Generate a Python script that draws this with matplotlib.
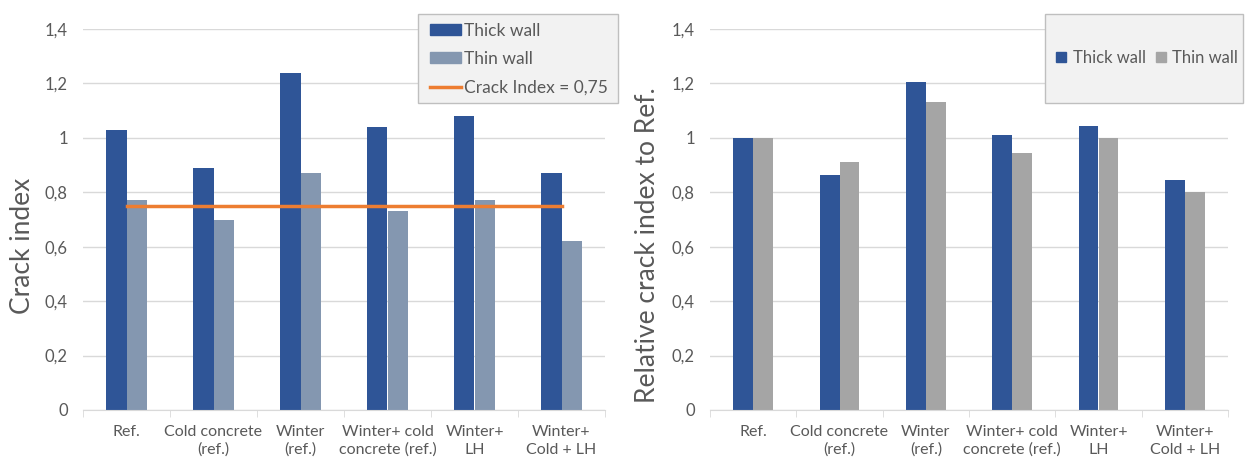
import numpy as np
import matplotlib.pyplot as plt
from matplotlib.patches import Patch, Rectangle
from matplotlib.lines import Line2D

plt.rcParams['font.family'] = ['Lato', 'DejaVu Sans']

categories = ["Ref.", "Cold concrete\n(ref.)", "Winter\n(ref.)",
              "Winter+ cold\nconcrete (ref.)", "Winter+\nLH", "Winter+\nCold + LH"]

# crack index per case
thick_abs = [1.03, 0.89, 1.24, 1.04, 1.08, 0.87]
thin_abs = [0.77, 0.70, 0.87, 0.73, 0.77, 0.62]
crack_limit = 0.75

# crack index relative to the reference case
thick_rel = [1.00, 0.865, 1.205, 1.01, 1.045, 0.845]
thin_rel = [1.00, 0.91, 1.13, 0.945, 1.00, 0.80]

yticks = [0, 0.2, 0.4, 0.6, 0.8, 1.0, 1.2, 1.4]
ytick_labels = ["0", "0,2", "0,4", "0,6", "0,8", "1", "1,2", "1,4"]

DARK = '#2F5597'
THIN_L = '#8497B0'
THIN_R = '#A5A5A5'
ORANGE = '#ED7D31'
TXT = '#595959'
GRID = '#D9D9D9'

W, H = 1245, 462
fig = plt.figure(figsize=(W / 100, H / 100), dpi=100)
ax1 = fig.add_axes([83 / W, 1 - 410 / H, 522 / W, 381 / H])
ax2 = fig.add_axes([710 / W, 1 - 410 / H, 518 / W, 381 / H])

x = np.arange(len(categories))
w = 0.23


def style(ax):
    ax.set_xlim(-0.5, len(categories) - 0.5)
    ax.set_ylim(0, 1.4)
    ax.set_yticks(yticks)
    ax.set_yticklabels(ytick_labels, color=TXT, fontsize=12)
    ax.set_xticks(x)
    ax.set_xticklabels(categories, color=TXT, fontsize=11.5, linespacing=1.3)
    ax.set_xticks(np.arange(-0.5, len(categories), 1), minor=True)
    ax.tick_params(axis='x', which='major', length=0, pad=11)
    ax.tick_params(axis='x', which='minor', length=5, color=GRID)
    ax.tick_params(axis='y', length=0, pad=11)
    ax.grid(axis='y', color=GRID, linewidth=1)
    ax.set_axisbelow(True)
    for s in ['top', 'right', 'left']:
        ax.spines[s].set_visible(False)
    ax.spines['bottom'].set_color(GRID)


ax1.bar(x - w / 2, thick_abs, w, color=DARK)
ax1.bar(x + w / 2, thin_abs, w, color=THIN_L)
ax1.plot([x[0], x[-1]], [crack_limit, crack_limit], color=ORANGE, linewidth=2.5)
style(ax1)
ax1.set_ylabel("Crack index", fontsize=19, color=TXT)
ax1.yaxis.set_label_coords(-0.092, 0.43)

ax2.bar(x - w / 2, thick_rel, w, color=DARK)
ax2.bar(x + w / 2, thin_rel, w, color=THIN_R)
style(ax2)
ax2.set_ylabel("Relative crack index to Ref.", fontsize=19, color=TXT)
ax2.yaxis.set_label_coords(-0.097, 0.433)

# legend boxes
fig.patches.append(Rectangle((418 / W, 1 - 103 / H), 200 / W, 89 / H,
                             transform=fig.transFigure, facecolor='#F2F2F2',
                             edgecolor='#BFBFBF', linewidth=1, zorder=5))
fig.patches.append(Rectangle((1045 / W, 1 - 103 / H), 198 / W, 89 / H,
                             transform=fig.transFigure, facecolor='#F2F2F2',
                             edgecolor='#BFBFBF', linewidth=1, zorder=5))

h1 = [Patch(color=DARK), Patch(color=THIN_L), Line2D([], [], color=ORANGE, linewidth=2.5)]
leg1 = fig.legend(h1, ["Thick wall", "Thin wall", "Crack Index = 0,75"],
                  loc='center', bbox_to_anchor=(519 / W, 1 - 59 / H),
                  frameon=False, fontsize=12.5, labelcolor=TXT,
                  handlelength=1.8, handleheight=0.6, handletextpad=0.15,
                  labelspacing=0.72, borderpad=0)
leg1.set_zorder(6)

h2 = [Patch(color=DARK), Patch(color=THIN_R)]
leg2 = fig.legend(h2, ["Thick wall", "Thin wall"], ncol=2,
                  loc='center', bbox_to_anchor=(1147 / W, 1 - 58 / H),
                  frameon=False, fontsize=12, labelcolor=TXT,
                  handlelength=0.6, handleheight=0.6, handletextpad=0.4,
                  columnspacing=0.6, borderpad=0)
leg2.set_zorder(6)

fig.savefig("out.png", dpi=100)
